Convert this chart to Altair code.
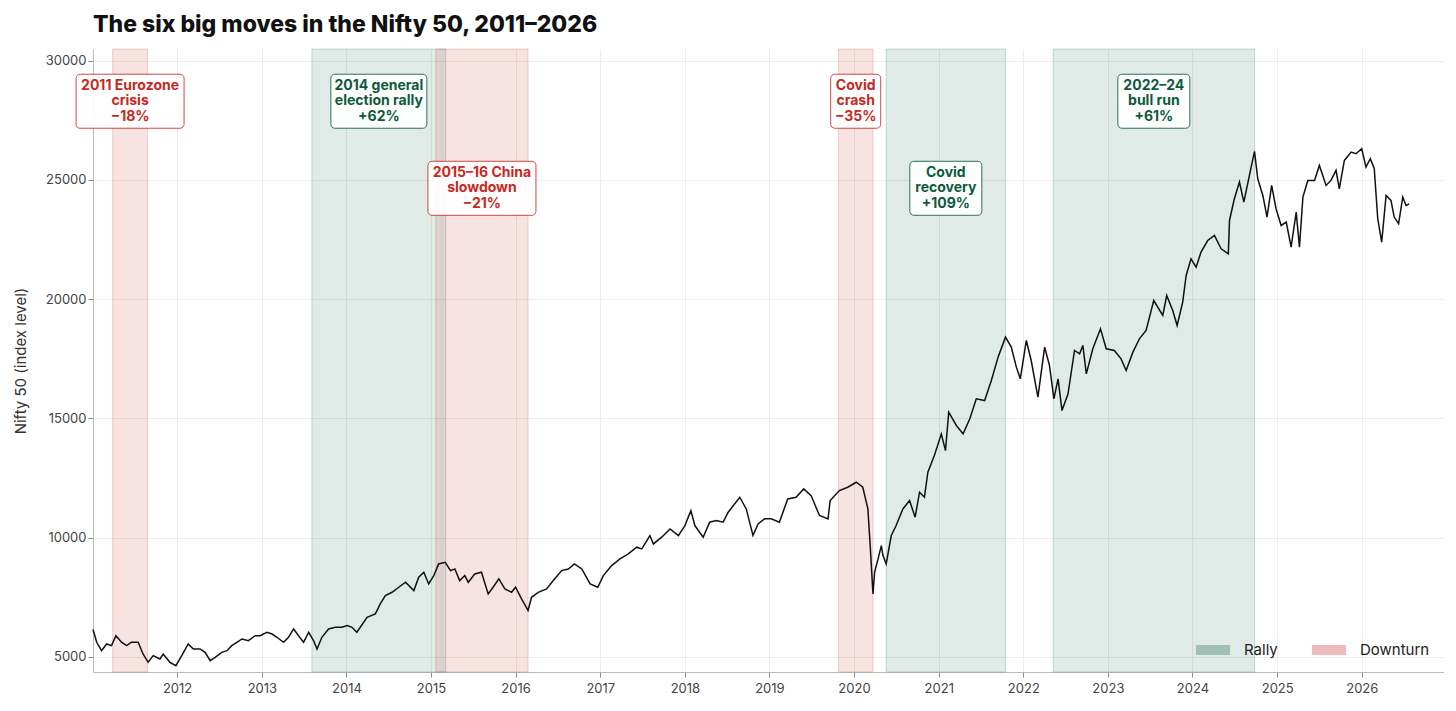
"""The six big moves in the Nifty 50, 2011-2026."""

import altair as alt
import pandas as pd

# Nifty 50 index level at its turning points
DATES_2011_2015 = [
    "2011-01-03", "2011-01-19", "2011-02-09", "2011-03-03", "2011-03-24",
    "2011-04-12", "2011-05-06", "2011-05-28", "2011-06-18", "2011-07-17",
    "2011-08-07", "2011-08-29", "2011-09-20", "2011-10-19", "2011-11-02",
    "2011-12-01", "2011-12-27", "2012-01-21", "2012-02-18", "2012-03-11",
    "2012-04-09", "2012-05-01", "2012-05-23", "2012-06-13", "2012-07-12",
    "2012-08-03", "2012-08-24", "2012-09-15", "2012-10-07", "2012-11-04",
    "2012-12-03", "2012-12-25", "2013-01-23", "2013-02-14", "2013-03-07",
    "2013-04-05", "2013-04-26", "2013-05-18", "2013-06-08", "2013-06-30",
    "2013-07-22", "2013-08-12", "2013-08-27", "2013-09-17", "2013-10-16",
    "2013-11-14", "2013-12-13", "2014-01-04", "2014-01-25", "2014-02-15",
    "2014-03-31", "2014-05-06", "2014-05-27", "2014-06-18", "2014-07-17",
    "2014-08-15", "2014-09-13", "2014-10-19", "2014-11-09", "2014-12-01",
    "2014-12-22", "2015-01-13", "2015-02-03", "2015-03-04", "2015-03-26",
]
LEVELS_2011_2015 = [
    6150, 5617, 5265, 5545, 5475,
    5893, 5620, 5475, 5617, 5617,
    5126, 4777, 5056, 4916, 5126,
    4777, 4636, 5056, 5545, 5335,
    5335, 5195, 4846, 4986, 5195,
    5265, 5475, 5617, 5755, 5685,
    5893, 5893, 6036, 5963, 5826,
    5617, 5826, 6175, 5893, 5617,
    6036, 5685, 5335, 5826, 6175,
    6245, 6245, 6315, 6245, 6036,
    6665, 6804, 7223, 7571, 7712,
    7923, 8133, 7783, 8343, 8553,
    8062, 8410, 8900, 8970, 8620,
]

DATES_2015_2020 = [
    "2015-04-14", "2015-05-05", "2015-05-27", "2015-06-11", "2015-07-09",
    "2015-08-07", "2015-09-05", "2015-09-26", "2015-10-21", "2015-11-16",
    "2015-12-15", "2016-01-01", "2016-01-27", "2016-02-24", "2016-03-10",
    "2016-04-08", "2016-05-14", "2016-06-12", "2016-07-18", "2016-08-16",
    "2016-09-11", "2016-10-13", "2016-11-18", "2016-12-21", "2017-01-14",
    "2017-02-19", "2017-03-27", "2017-05-02", "2017-06-07", "2017-06-29",
    "2017-08-03", "2017-08-18", "2017-09-23", "2017-10-29", "2017-12-04",
    "2018-01-01", "2018-01-27", "2018-02-13", "2018-03-21", "2018-04-18",
    "2018-05-17", "2018-06-15", "2018-07-07", "2018-08-26", "2018-09-23",
    "2018-10-22", "2018-11-13", "2018-12-11", "2019-01-09", "2019-02-13",
    "2019-03-21", "2019-04-26", "2019-05-29", "2019-06-30", "2019-08-05",
    "2019-09-11", "2019-09-20", "2019-10-30", "2019-12-05", "2020-01-11",
    "2020-02-08", "2020-03-01", "2020-03-11", "2020-03-23",
]
LEVELS_2015_2020 = [
    8690, 8203, 8413, 8133, 8482,
    8553, 7643, 7923, 8272, 7852,
    7712, 7923, 7433, 6950, 7503,
    7712, 7852, 8203, 8620, 8690,
    8900, 8690, 8062, 7923, 8410,
    8833, 9113, 9322, 9602, 9532,
    10091, 9740, 10022, 10370, 10091,
    10510, 11137, 10510, 10022, 10650,
    10720, 10650, 11067, 11697, 11208,
    10091, 10580, 10790, 10790, 10650,
    11627, 11697, 12047, 11767, 10930,
    10790, 11557, 11977, 12117, 12326,
    12117, 11208, 9670, 7643,
]

DATES_2020_2022 = [
    "2020-03-30", "2020-04-14", "2020-04-28", "2020-05-05", "2020-05-19",
    "2020-06-10", "2020-07-01", "2020-07-30", "2020-08-28", "2020-09-21",
    "2020-10-10", "2020-10-31", "2020-11-15", "2020-12-13", "2021-01-12",
    "2021-01-30", "2021-02-13", "2021-03-18", "2021-04-16", "2021-05-15",
    "2021-06-12", "2021-07-18", "2021-08-16", "2021-09-14", "2021-10-16",
    "2021-11-10", "2021-12-02", "2021-12-19", "2022-01-14", "2022-02-04",
    "2022-03-05", "2022-04-03", "2022-04-24", "2022-05-13", "2022-05-31",
    "2022-06-17", "2022-07-13", "2022-08-10", "2022-09-01", "2022-09-15",
    "2022-09-30", "2022-10-28", "2022-11-30", "2022-12-25",
]
LEVELS_2020_2022 = [
    8553, 9113, 9670, 9260, 8900,
    10091, 10510, 11208, 11557, 10860,
    11908, 11697, 12746, 13444, 14354,
    13654, 15264, 14705, 14354, 14984,
    15822, 15752, 16592, 17571, 18410,
    17991, 17152, 16661, 18269, 17430,
    15893, 17991, 17221, 15822, 16661,
    15332, 16034, 17851, 17711, 18061,
    16871, 17921, 18759, 17921,
]

DATES_2023_2026 = [
    "2023-01-29", "2023-02-27", "2023-03-21", "2023-04-19", "2023-05-17",
    "2023-06-15", "2023-07-18", "2023-08-26", "2023-09-12", "2023-10-08",
    "2023-10-27", "2023-11-20", "2023-12-05", "2023-12-26", "2024-01-17",
    "2024-02-07", "2024-03-07", "2024-04-05", "2024-05-04", "2024-06-04",
    "2024-06-09", "2024-06-30", "2024-07-22", "2024-08-10", "2024-09-03",
    "2024-09-25", "2024-10-09", "2024-10-31", "2024-11-18", "2024-12-08",
    "2024-12-27", "2025-01-18", "2025-02-09", "2025-03-02", "2025-03-24",
    "2025-04-07", "2025-04-22", "2025-05-13", "2025-06-11", "2025-07-02",
    "2025-07-31", "2025-08-21", "2025-09-12", "2025-09-26", "2025-10-18",
    "2025-11-16", "2025-12-07", "2026-01-01", "2026-01-19", "2026-02-07",
    "2026-02-24", "2026-03-11", "2026-03-28", "2026-04-16", "2026-05-07",
    "2026-05-21", "2026-06-09", "2026-06-27", "2026-07-11", "2026-07-25",
]
LEVELS_2023_2026 = [
    17850, 17500, 17012, 17780, 18339,
    18690, 19946, 19317, 20156, 19527,
    18897, 19876, 20994, 21694, 21345,
    21974, 22461, 22671, 22114, 21904,
    23301, 24211, 24911, 24072, 25189,
    26195, 25050, 24350, 23444, 24769,
    23792, 23092, 23232, 22185, 23652,
    22185, 24282, 24980, 24980, 25608,
    24769, 24980, 25398, 24630, 25818,
    26170, 26100, 26309, 25538, 25888,
    25469, 23372, 22393, 24350, 24140,
    23444, 23163, 24282, 23931, 24000,
]

# The six shaded moves
MOVE_NAMES = [
    "2011 Eurozone\ncrisis",
    "2014 general\nelection rally",
    "2015–16 China\nslowdown",
    "Covid\ncrash",
    "Covid\nrecovery",
    "2022–24\nbull run",
]
MOVE_CHANGES = ["−18%", "+62%", "−21%", "−35%", "+109%", "+61%"]
MOVE_KINDS = ["Downturn", "Rally", "Downturn", "Downturn", "Rally", "Rally"]
MOVE_STARTS = ["2011-03-29", "2013-08-05", "2015-01-22", "2019-10-26", "2020-05-19", "2022-05-10"]
MOVE_ENDS = ["2011-08-26", "2015-03-06", "2016-02-24", "2020-03-23", "2021-10-16", "2024-09-25"]

KINDS = ["Rally", "Downturn"]

# styling
FONT = "Inter"
Y_TITLE = "Nifty 50  (index level)"
KIND_COLORS = ["#1a6b4f", "#cb3030"]
TEXT_COLORS = {"Rally": "#0e5a3b", "Downturn": "#c42a1f"}
BOX_WIDTHS = {
    "2011 Eurozone\ncrisis": 108,
    "2014 general\nelection rally": 96,
    "2015–16 China\nslowdown": 108,
    "Covid\ncrash": 50,
    "Covid\nrecovery": 72,
    "2022–24\nbull run": 72,
}
LINE_HEIGHT = 15.5
UPPER_LEVEL = 28300
LOWER_LEVEL = 24650
LOWER_ROW = {"2015–16 China\nslowdown", "Covid\nrecovery"}

nifty = pd.DataFrame({
    "date": pd.to_datetime(DATES_2011_2015 + DATES_2015_2020 + DATES_2020_2022 + DATES_2023_2026),
    "level": LEVELS_2011_2015 + LEVELS_2015_2020 + LEVELS_2020_2022 + LEVELS_2023_2026,
})

moves = pd.DataFrame({
    "name": MOVE_NAMES,
    "label": [f"{n}\n{c}" for n, c in zip(MOVE_NAMES, MOVE_CHANGES)],
    "kind": MOVE_KINDS,
    "start": pd.to_datetime(MOVE_STARTS),
    "end": pd.to_datetime(MOVE_ENDS),
})
moves["mid"] = moves["start"] + (moves["end"] - moves["start"]) / 2
moves["label_y"] = [LOWER_LEVEL if n in LOWER_ROW else UPPER_LEVEL for n in MOVE_NAMES]

kind_scale = alt.Scale(domain=KINDS, range=KIND_COLORS)
x_scale = alt.Scale(domain=[alt.DateTime(year=2011, month=1, date=3),
                            alt.DateTime(year=2026, month=12, date=22)])
y_scale = alt.Scale(domain=[4370, 30490], nice=False, zero=False)

bands = (
    alt.Chart(moves)
    .mark_rect(fillOpacity=0.135, strokeOpacity=0.22, strokeWidth=1)
    .encode(
        x=alt.X("start:T", scale=x_scale, title=None),
        x2="end:T",
        color=alt.Color(
            "kind:N",
            scale=kind_scale,
            legend=alt.Legend(
                title=None,
                orient="bottom-right",
                direction="horizontal",
                offset=14,
                labelFont=FONT,
                labelFontSize=15,
                labelColor="#222",
                labelOffset=14,
                columnPadding=34,
                symbolType="M-1,-0.3L1,-0.3L1,0.3L-1,0.3Z",
                symbolSize=1156,
                symbolStrokeWidth=0,
                symbolOpacity=0.33,
            ),
        ),
        stroke=alt.Stroke("kind:N", scale=kind_scale, legend=None),
    )
)

line = (
    alt.Chart(nifty)
    .mark_line(color="#111111", strokeWidth=1.5)
    .encode(
        x=alt.X(
            "date:T",
            scale=x_scale,
            title=None,
            axis=alt.Axis(format="%Y", tickCount={"interval": "year", "step": 1},
                          labelFlush=False, labelPadding=5),
        ),
        y=alt.Y(
            "level:Q",
            scale=y_scale,
            title=Y_TITLE,
            axis=alt.Axis(values=[5000, 10000, 15000, 20000, 25000, 30000], format="d"),
        ),
    )
)

# Label boxes with the move's name and size, one per move
labels = []
for row in moves.itertuples():
    one = moves[moves["name"] == row.name]
    colour = TEXT_COLORS[row.kind]
    position = dict(
        x=alt.X("mid:T", title=None),
        y=alt.Y("label_y:Q", title=Y_TITLE),
    )
    box = (
        alt.Chart(one)
        .mark_rect(width=BOX_WIDTHS[row.name], height=54, cornerRadius=4,
                   fill="white", fillOpacity=0.92, stroke=colour,
                   strokeOpacity=0.85, strokeWidth=1)
        .encode(**position)
    )
    text = (
        alt.Chart(one)
        .mark_text(lineBreak="\n", font=FONT, fontSize=14, fontWeight="bold",
                   lineHeight=LINE_HEIGHT, dy=-LINE_HEIGHT, color=colour,
                   baseline="middle")
        .encode(text="label:N", **position)
    )
    labels += [box, text]

chart = (
    alt.layer(bands, line, *labels)
    .properties(
        width=1351,
        height=623,
        padding={"left": 5, "top": 5, "right": 0, "bottom": 5},
        title=alt.TitleParams(
            "The six big moves in the Nifty 50, 2011–2026",
            anchor="start",
            frame="group",
            font=FONT,
            fontSize=23,
            fontWeight=800,
            color="#111111",
            offset=12,
        ),
    )
    .configure_view(stroke=None)
    .configure_axis(
        labelFont=FONT,
        labelFontSize=13,
        labelColor="#444444",
        titleFont=FONT,
        titleFontSize=15,
        titleFontWeight="normal",
        titleColor="#333333",
        titlePadding=17,
        gridColor="#ececec",
        domainColor="#bbbbbb",
        tickColor="#888888",
        tickSize=5,
    )
)

chart.save("out.html", embed_options={"renderer": "svg", "actions": False})
